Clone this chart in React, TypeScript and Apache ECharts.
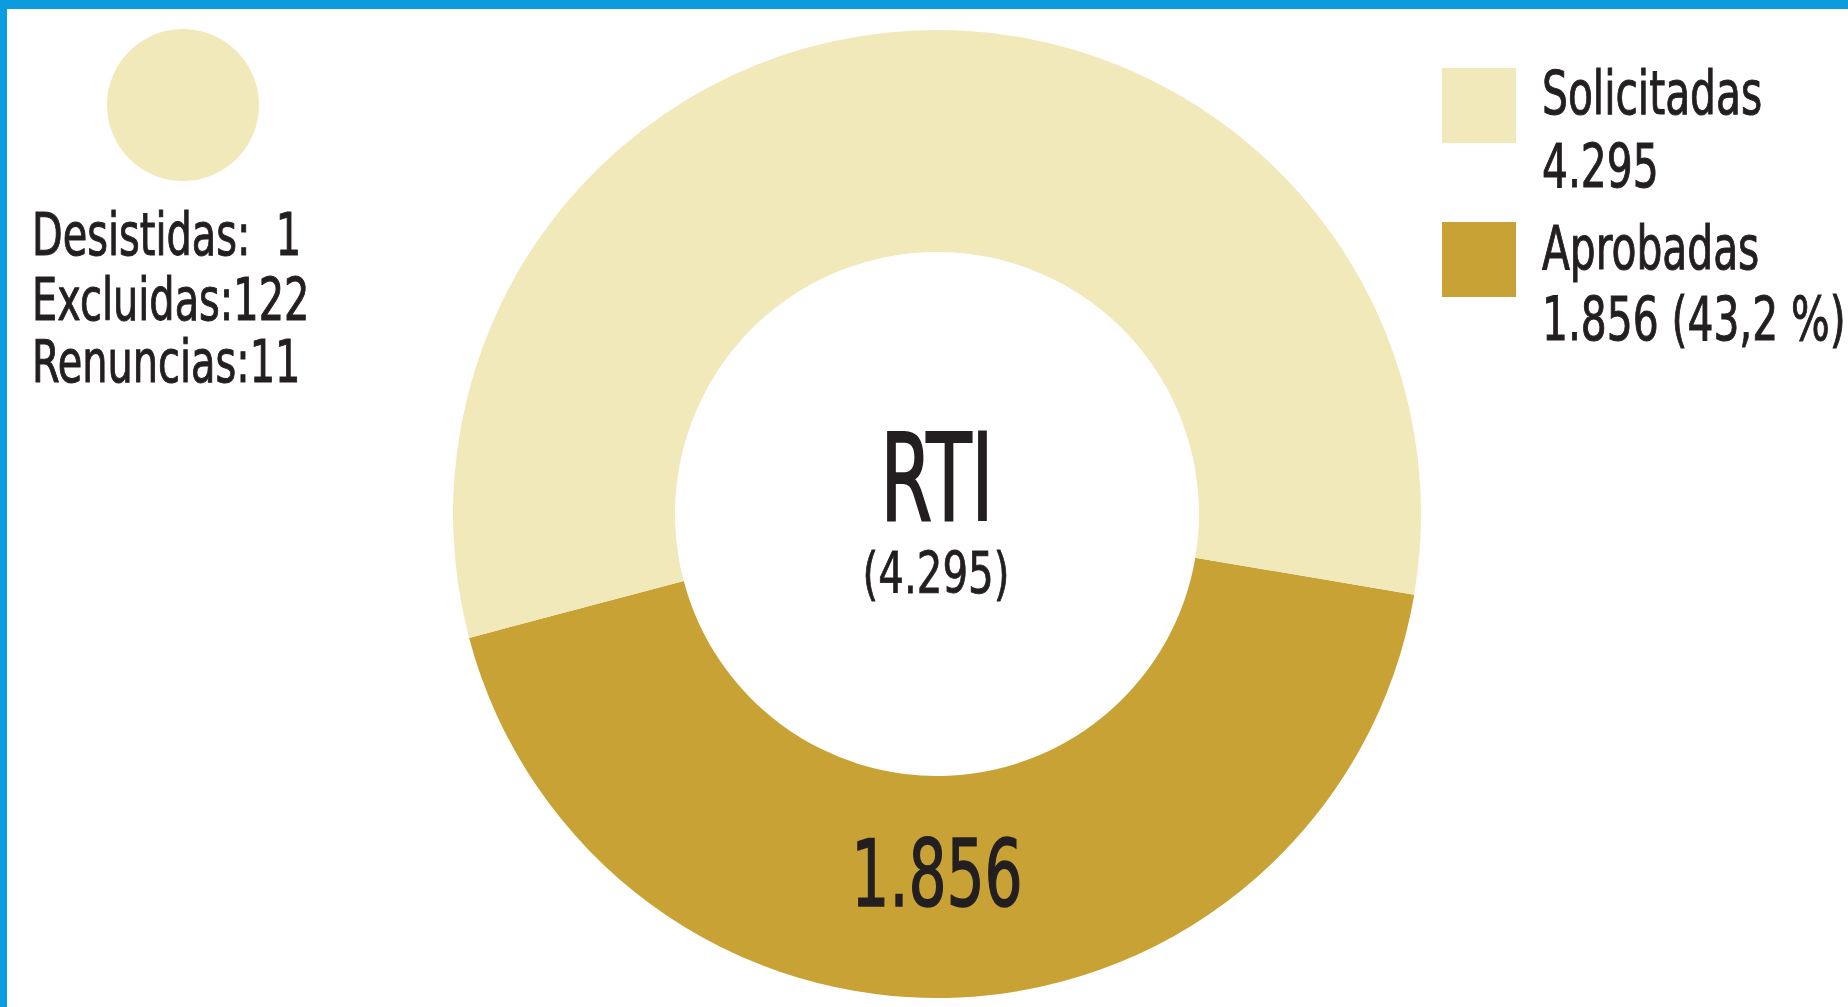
import { useEffect, useRef } from 'react';
import * as echarts from 'echarts';

// ---- data ----
const centerTitle = 'RTI';
const solicitadas = 4295;
const aprobadas = 1856;
const sliceNames = ['Aprobadas', 'Solicitadas'];
const legendNames = ['Solicitadas', 'Aprobadas'];
const noteNames = ['Desistidas', 'Excluidas', 'Renuncias'];
const noteValues = [1, 122, 11];
const noteSeparators = [':  ', ':', ':'];

// ---- style ----
const LIGHT = '#F1E9BA';
const DARK = '#C8A234';
const BLUE = '#0B9BDF';
const INK = '#231F20';
const FONT = '"Liberation Sans Narrow", "Arial Narrow", "DejaVu Sans Condensed", sans-serif';

function fmt(n: number): string {
  return n.toString().replace(/\B(?=(\d{3})+(?!\d))/g, '.');
}

function txt(x: number, y: number, text: string, size: number, align: string, sx: number, sw: number) {
  return {
    type: 'text',
    x,
    y,
    scaleX: sx,
    z: 100,
    silent: true,
    style: {
      text,
      fill: INK,
      stroke: INK,
      lineWidth: sw,
      fontSize: size,
      fontFamily: FONT,
      align,
      verticalAlign: 'middle',
    },
  };
}

export default function App() {
  const ref = useRef<HTMLDivElement>(null);

  useEffect(() => {
    document.body.style.margin = '0';
    if (!ref.current) return;
    const chart = echarts.init(ref.current, undefined, { renderer: 'svg' });

    const pct = ((aprobadas / solicitadas) * 100).toFixed(1).replace('.', ',');
    const legendLines = [
      [legendNames[0], fmt(solicitadas)],
      [legendNames[1], `${fmt(aprobadas)} (${pct} %)`],
    ];

    const graphic: any[] = [
      { type: 'rect', shape: { x: 0, y: 0, width: 1848, height: 9 }, style: { fill: BLUE }, z: 50 },
      { type: 'rect', shape: { x: 0, y: 0, width: 7, height: 1007 }, style: { fill: BLUE }, z: 50 },
      { type: 'circle', shape: { cx: 183, cy: 105, r: 76 }, style: { fill: LIGHT } },
      { type: 'rect', shape: { x: 1442, y: 68, width: 74, height: 75 }, style: { fill: LIGHT } },
      { type: 'rect', shape: { x: 1442, y: 222, width: 74, height: 75 }, style: { fill: DARK } },
      txt(1542, 94, legendLines[0][0], 60, 'left', 0.755, 1),
      txt(1542, 166.5, legendLines[0][1], 60, 'left', 0.755, 1),
      txt(1542, 248.5, legendLines[1][0], 60, 'left', 0.755, 1),
      txt(1542, 320, legendLines[1][1], 60, 'left', 0.755, 1),
      txt(937, 477.5, centerTitle, 122, 'center', 0.677, 2),
      txt(936, 572.5, `(${fmt(solicitadas)})`, 57, 'center', 0.786, 0.8),
      txt(937, 873.5, fmt(aprobadas), 92, 'center', 0.724, 1.5),
    ];
    const noteY = [234.5, 299.5, 361.5];
    noteNames.forEach((n, i) => {
      graphic.push(txt(32, noteY[i], `${n}${noteSeparators[i]}${noteValues[i]}`, 58, 'left', 0.764, 1));
    });

    chart.setOption({
      animation: false,
      backgroundColor: '#ffffff',
      graphic,
      series: [
        {
          type: 'pie',
          center: [937, 514],
          radius: [262, 484],
          startAngle: 350.4,
          clockwise: true,
          silent: true,
          avoidLabelOverlap: false,
          label: { show: false },
          labelLine: { show: false },
          emphasis: { disabled: true },
          data: [
            { name: sliceNames[0], value: aprobadas, itemStyle: { color: DARK } },
            { name: sliceNames[1], value: solicitadas - aprobadas, itemStyle: { color: LIGHT } },
          ],
        },
      ],
    });

    return () => chart.dispose();
  }, []);

  return <div ref={ref} style={{ width: 1848, height: 1007 }} />;
}
